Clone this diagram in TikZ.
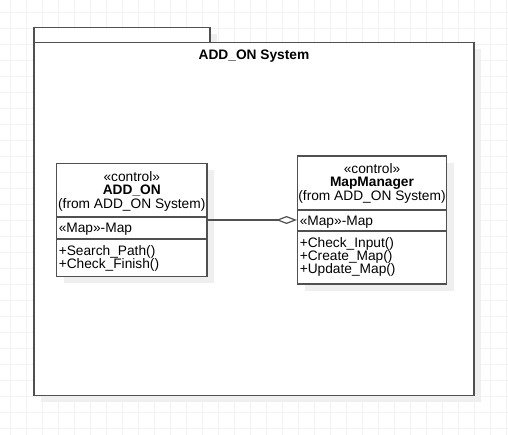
\documentclass[tikz,border=0pt]{standalone}
\usepackage{fontspec}
\setmainfont{Liberation Sans}
\usetikzlibrary{arrows.meta,shadows}
\definecolor{umlline}{HTML}{505050}
\definecolor{umlshade}{HTML}{EFEFEF}
\definecolor{umlgrid}{HTML}{F2F2F2}
\tikzset{
  umlshadow/.style={general shadow={fill=umlshade,shadow xshift=5.25pt,shadow yshift=-5.25pt}},
  umlbox/.style={draw=umlline,line width=0.9pt,fill=white,inner sep=0pt,umlshadow},
  umltext/.style={inner sep=0pt,text height=7.4pt,text depth=0pt,font=\fontsize{10.3pt}{12pt}\selectfont},
  umlbold/.style={umltext,font=\fontsize{10.3pt}{12pt}\selectfont\bfseries},
  umlleft/.style={umltext,anchor=west},
}
\begin{document}
\begin{tikzpicture}[x=0.75pt,y=-0.75pt]
    \useasboundingbox (0,0) rectangle (508,435);
    % background grid
    \foreach \gx in {10.7,26.7,...,506.7} \draw[umlgrid,line width=0.75pt] (\gx,0) -- (\gx,435);
    \foreach \gy in {12.3,28.3,...,428.3} \draw[umlgrid,line width=0.75pt] (0,\gy) -- (508,\gy);
    % package
    \node[umlbox,minimum width=132pt,minimum height=11.25pt] (tab) at (122,34.8) {};
    \node[umlbox,minimum width=330pt,minimum height=264.75pt] (pkg) at (254,218.8) {};
    \node[umlbold] (pkgname) at (254,55) {ADD\_ON System};
    % classes
    \node[umlbox,minimum width=112.875pt,minimum height=84.75pt] (addon) at (131.75,220) {};
    \node[umlbox,minimum width=111.75pt,minimum height=96pt] (mapmgr) at (372,220) {};
    \draw[umlline,line width=0.9pt] (addon.west |- 0,217) -- (addon.east |- 0,217);
    \draw[umlline,line width=0.9pt] (addon.west |- 0,239) -- (addon.east |- 0,239);
    \draw[umlline,line width=0.9pt] (mapmgr.west |- 0,210) -- (mapmgr.east |- 0,210);
    \draw[umlline,line width=0.9pt] (mapmgr.west |- 0,231) -- (mapmgr.east |- 0,231);
    \node[umltext] (astereo) at (131.75,176.5) {«control»};
    \node[umlbold] (aname) at (131.75,190) {ADD\_ON};
    \node[umltext] (afrom) at (131.75,204) {(from ADD\_ON System)};
    \node[umlleft] (aattr) at (58.5,228) {«Map»-Map};
    \node[umlleft] (asearch) at (58.5,251) {+Search\_Path()};
    \node[umlleft] (acheck) at (58.5,264) {+Check\_Finish()};
    \node[umltext] (mstereo) at (372,168.5) {«control»};
    \node[umlbold] (mname) at (372,182) {MapManager};
    \node[umltext] (mfrom) at (372,196) {(from ADD\_ON System)};
    \node[umlleft] (mattr) at (299.5,221) {«Map»-Map};
    \node[umlleft] (minput) at (299.5,243) {+Check\_Input()};
    \node[umlleft] (mcreate) at (299.5,256) {+Create\_Map()};
    \node[umlleft] (mupdate) at (299.5,269) {+Update\_Map()};
    % aggregation
    \draw[umlline,line width=0.9pt,-{Diamond[open,length=15.5pt,width=6pt]}] (addon) -- (mapmgr);
  \end{tikzpicture}
\end{document}
